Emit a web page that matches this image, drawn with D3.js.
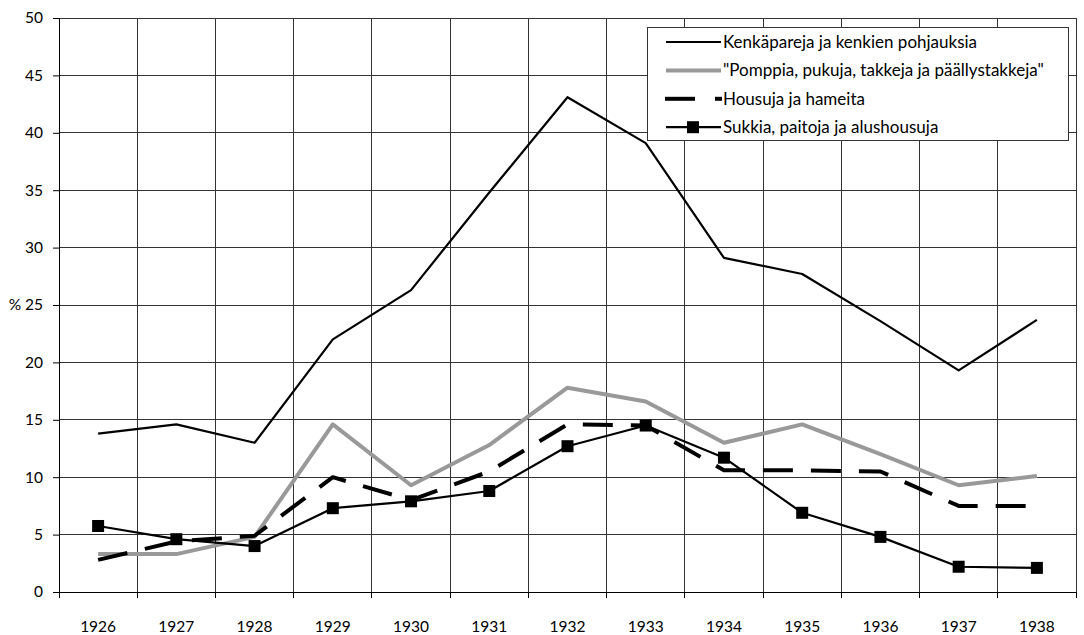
<!DOCTYPE html>
<html>
<head>
<meta charset="utf-8">
<script src="https://cdn.jsdelivr.net/npm/d3@7"></script>
<style>
  body { margin: 0; background: #fff; }
  text { font-family: Lato, 'DejaVu Sans', sans-serif; }
</style>
</head>
<body>
<div id="chart"></div>
<script>
const years = ['1926', '1927', '1928', '1929', '1930', '1931', '1932', '1933', '1934', '1935', '1936', '1937', '1938']
const kengat = [13.8, 14.6, 13.0, 22.0, 26.3, 34.8, 43.1, 39.1, 29.1, 27.7, 23.6, 19.3, 23.7]
const pompat = [3.3, 3.3, 4.8, 14.6, 9.3, 12.8, 17.8, 16.6, 13.0, 14.6, 12.0, 9.3, 10.1]
const housut = [2.8, 4.4, 4.9, 10.0, 8.0, 10.5, 14.6, 14.5, 10.6, 10.6, 10.5, 7.5, 7.5]
const sukat = [5.75, 4.6, 4.0, 7.3, 7.9, 8.8, 12.7, 14.5, 11.7, 6.9, 4.8, 2.2, 2.1]
const yTicks = [0, 5, 10, 15, 20, 25, 30, 35, 40, 45, 50]

const series = [
  { name: 'Kenkäpareja ja kenkien pohjauksia', values: kengat, color: '#000', width: 2.2, dash: null, marker: false },
  { name: '"Pomppia, pukuja, takkeja ja päällystakkeja"', values: pompat, color: '#999', width: 4, dash: null, marker: false },
  { name: 'Housuja ja hameita', values: housut, color: '#000', width: 4, dash: '30,18', marker: false },
  { name: 'Sukkia, paitoja ja alushousuja', values: sukat, color: '#000', width: 2.2, dash: null, marker: true }
]

const width = 1084, height = 635
const margin = { top: 18, right: 8, bottom: 43, left: 59 }
const innerW = width - margin.left - margin.right
const innerH = height - margin.top - margin.bottom

const svg = d3.select('#chart').append('svg')
  .attr('width', width).attr('height', height)
  .style('background', '#fff')

const g = svg.append('g').attr('transform', `translate(${margin.left},${margin.top})`)

const x = d3.scaleBand().domain(years).range([0, innerW])
const y = d3.scaleLinear().domain([0, 50]).range([innerH, 0])

// horizontal grid
g.selectAll('.hgrid').data(yTicks).join('line')
  .attr('x1', 0).attr('x2', innerW)
  .attr('y1', d => y(d)).attr('y2', d => y(d))
  .attr('stroke', '#333').attr('stroke-width', 1).attr('shape-rendering', 'crispEdges')

// vertical grid at category boundaries
const bounds = years.map(d => x(d)).concat([innerW])
g.selectAll('.vgrid').data(bounds.slice(1)).join('line')
  .attr('x1', d => d).attr('x2', d => d)
  .attr('y1', 0).attr('y2', innerH)
  .attr('stroke', '#333').attr('stroke-width', 1).attr('shape-rendering', 'crispEdges')

// y axis
const yAxis = g.append('g').call(d3.axisLeft(y).tickValues(yTicks).tickSize(6).tickPadding(10)
  .tickFormat(d => d === 25 ? '% 25' : d))
yAxis.select('.domain').attr('stroke', '#000')
yAxis.selectAll('.tick line').attr('stroke', '#000')
yAxis.selectAll('text').attr('font-size', 15.5).attr('fill', '#000')
  .style('font-family', 'Lato, DejaVu Sans, sans-serif')

// x axis
const xAxis = g.append('g').attr('transform', `translate(0,${innerH})`)
xAxis.append('line').attr('x1', 0).attr('x2', innerW).attr('stroke', '#000').attr('shape-rendering', 'crispEdges')
xAxis.selectAll('.xtick').data(bounds).join('line')
  .attr('x1', d => d).attr('x2', d => d).attr('y1', 0).attr('y2', 6)
  .attr('stroke', '#000').attr('shape-rendering', 'crispEdges')
xAxis.selectAll('.xlabel').data(years).join('text')
  .attr('x', d => x(d) + x.bandwidth() / 2).attr('y', 40)
  .attr('text-anchor', 'middle').attr('font-size', 15.5).attr('fill', '#000')
  .text(d => d)

const line = d3.line().x((d, i) => x(years[i]) + x.bandwidth() / 2).y(d => y(d))

series.forEach(s => {
  g.append('path').datum(s.values)
    .attr('fill', 'none').attr('stroke', s.color).attr('stroke-width', s.width)
    .attr('stroke-dasharray', s.dash).attr('stroke-linejoin', 'round')
    .attr('d', line)
  if (s.marker) {
    g.selectAll('.sq').data(s.values).join('rect')
      .attr('x', (d, i) => x(years[i]) + x.bandwidth() / 2 - 6)
      .attr('y', d => y(d) - 6)
      .attr('width', 12).attr('height', 12).attr('fill', '#000')
  }
})

// legend
const lg = svg.append('g').attr('transform', 'translate(647,27)')
lg.append('rect').attr('width', 421).attr('height', 113)
  .attr('fill', '#fff').attr('stroke', '#333').attr('stroke-width', 1).attr('shape-rendering', 'crispEdges')
series.forEach((s, i) => {
  const ly = 15 + i * 28.4
  const item = lg.append('g').attr('transform', `translate(0,${ly})`)
  if (s.dash) {
    item.append('line').attr('x1', 18).attr('x2', 48).attr('stroke', '#000').attr('stroke-width', 4)
    item.append('line').attr('x1', 68).attr('x2', 75).attr('stroke', '#000').attr('stroke-width', 4)
  } else {
    item.append('line').attr('x1', 19).attr('x2', 74)
      .attr('stroke', s.color).attr('stroke-width', s.width)
  }
  if (s.marker) {
    item.append('rect').attr('x', 40).attr('y', -6).attr('width', 12).attr('height', 12).attr('fill', '#000')
  }
  item.append('text').attr('x', 76).attr('y', 6).attr('font-size', 17).attr('fill', '#000').text(s.name)
})
</script>
</body>
</html>
